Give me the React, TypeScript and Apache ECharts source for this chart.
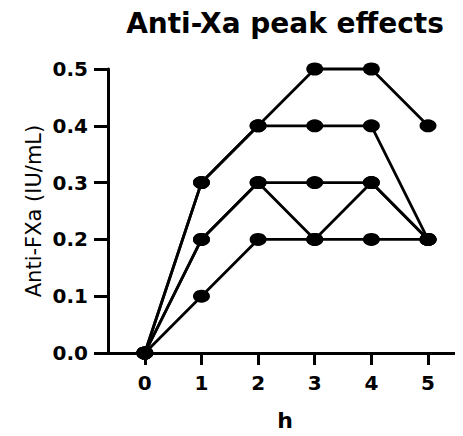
import React, { useEffect, useRef } from "react";
import * as echarts from "echarts";

const hours = [0, 1, 2, 3, 4, 5];
const patient1 = [0, 0.3, 0.4, 0.5, 0.5, 0.4];
const patient2 = [0, 0.3, 0.4, 0.4, 0.4, 0.2];
const patient3 = [0, 0.2, 0.3, 0.3, 0.3, 0.2];
const patient4 = [0, 0.2, 0.3, 0.2, 0.3, 0.2];
const patient5 = [0, 0.1, 0.2, 0.2, 0.2, 0.2];
const yTicks = [0, 0.1, 0.2, 0.3, 0.4, 0.5];

const allSeries = [patient1, patient2, patient3, patient4, patient5];

export default function App() {
  const ref = useRef<HTMLDivElement>(null);
  useEffect(() => {
    if (!ref.current) return;
    const chart = echarts.init(ref.current, null, { renderer: "svg" });
    const bold = "DejaVu Sans";
    chart.setOption({
      animation: false,
      backgroundColor: "#ffffff",
      graphic: [
        {
          type: "text",
          x: 285,
          y: 23,
          style: {
            text: "Anti-Xa peak effects",
            font: "bold 28px 'DejaVu Sans'",
            fill: "#000",
            textAlign: "center",
            textVerticalAlign: "middle",
          },
        },
      ],
      grid: { left: 108, right: 1, top: 69, bottom: 83, containLabel: false, outerBoundsMode: "none" },
      xAxis: {
        type: "value",
        min: -0.65,
        max: 5.6,
        name: "h",
        nameLocation: "middle",
        nameGap: 56,
        nameMoveOverlap: false,
        nameTextStyle: { fontFamily: bold, fontWeight: "bold", fontSize: 22, color: "#000" },
        splitLine: { show: false },
        axisLine: { show: true, onZero: false, lineStyle: { color: "#000", width: 3 } },
        axisTick: { show: true, customValues: hours, length: 12, lineStyle: { color: "#000", width: 3 } },
        axisLabel: {
          customValues: hours,
          margin: 20,
          fontFamily: bold,
          fontWeight: "bold",
          fontSize: 20,
          color: "#000",
          formatter: (v: number) => String(v),
        },
      },
      yAxis: {
        type: "value",
        min: 0,
        max: 0.5,
        interval: 0.1,
        name: "Anti-FXa (IU/mL)",
        nameLocation: "middle",
        nameRotate: 90,
        nameGap: 64,
        nameMoveOverlap: false,
        nameTextStyle: { fontFamily: "DejaVu Sans", fontSize: 21, color: "#000" },
        splitLine: { show: false },
        axisLine: { show: true, onZero: false, lineStyle: { color: "#000", width: 3 } },
        axisTick: { show: true, length: 14, lineStyle: { color: "#000", width: 3 } },
        axisLabel: {
          margin: 20,
          fontFamily: bold,
          fontWeight: "bold",
          fontSize: 20,
          color: "#000",
          formatter: (v: number) => {
            const t = yTicks.find((y) => Math.abs(y - v) < 1e-9);
            return (t !== undefined ? t : v).toFixed(1);
          },
        },
      },
      series: allSeries.map((vals, i) => ({
        type: "line",
        name: "P" + (i + 1),
        data: hours.map((h, j) => [h, vals[j]]),
        symbol: "circle",
        symbolSize: [17, 13],
        clip: false,
        itemStyle: { color: "#000" },
        lineStyle: { color: "#000", width: 2.8 },
        z: 3,
      })),
    });
    return () => chart.dispose();
  }, []);
  return <div ref={ref} style={{ width: 463, height: 436, margin: -8 }} />;
}
